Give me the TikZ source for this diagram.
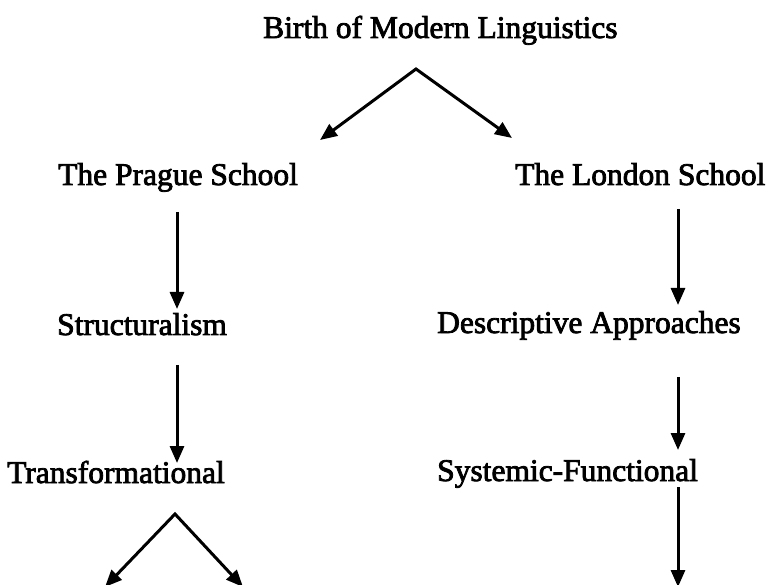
\documentclass[tikz,border=0pt]{standalone}
\usepackage{fontspec}
\setmainfont{Liberation Serif}
\newfontfamily\heavyserif{Liberation Serif}[FakeBold=2.5]
\usetikzlibrary{arrows.meta}
\begin{document}
\begin{tikzpicture}[x=1pt,y=-1pt,
  lbl/.style={anchor=base west, inner sep=0pt, font=\heavyserif\fontsize{31.5}{36}\selectfont},
  arr/.style={line width=3pt, line join=miter, -{Triangle[length=17pt,width=14pt]}},
  arr2/.style={line width=3pt, line join=miter, {Triangle[length=17pt,width=14pt]}-{Triangle[length=17pt,width=14pt]}}]
\useasboundingbox (0,0) rectangle (766,585);
\node[lbl] (birth)  at (263,38)  {Birth of Modern Linguistics};
\node[lbl] (prague) at (58,185)  {The Prague School};
\node[lbl] (london) at (515,185) {The London School};
\node[lbl] (struct) at (57,335)  {Structuralism};
\node[lbl] (desc)   at (437,333) {Descriptive Approaches};
\node[lbl] (trans)  at (7,483)   {Transformational};
\node[lbl] (sysf)   at (437,481) {Systemic-Functional};
% top split
\coordinate (t0) at (416,69);
\coordinate (t1) at (320,140);
\coordinate (t2) at (512,138);
\draw[arr2] (t1) -- (t0) -- (t2);
% left column
\coordinate (l1s) at (177,212);
\coordinate (l1e) at (177,309);
\coordinate (l2s) at (177,365);
\coordinate (l2e) at (177,463);
\draw[arr] (l1s) -- (l1e);
\draw[arr] (l2s) -- (l2e);
% right column
\coordinate (r1s) at (678,209);
\coordinate (r1e) at (678,305);
\coordinate (r2s) at (678,377);
\coordinate (r2e) at (678,450);
\coordinate (r3s) at (678,487);
\coordinate (r3e) at (678,587);
\draw[arr] (r1s) -- (r1e);
\draw[arr] (r2s) -- (r2e);
\draw[arr] (r3s) -- (r3e);
% bottom split
\coordinate (b0) at (175,514);
\coordinate (b1) at (105,587);
\coordinate (b2) at (243,587);
\draw[arr2] (b1) -- (b0) -- (b2);
\end{tikzpicture}
\end{document}
